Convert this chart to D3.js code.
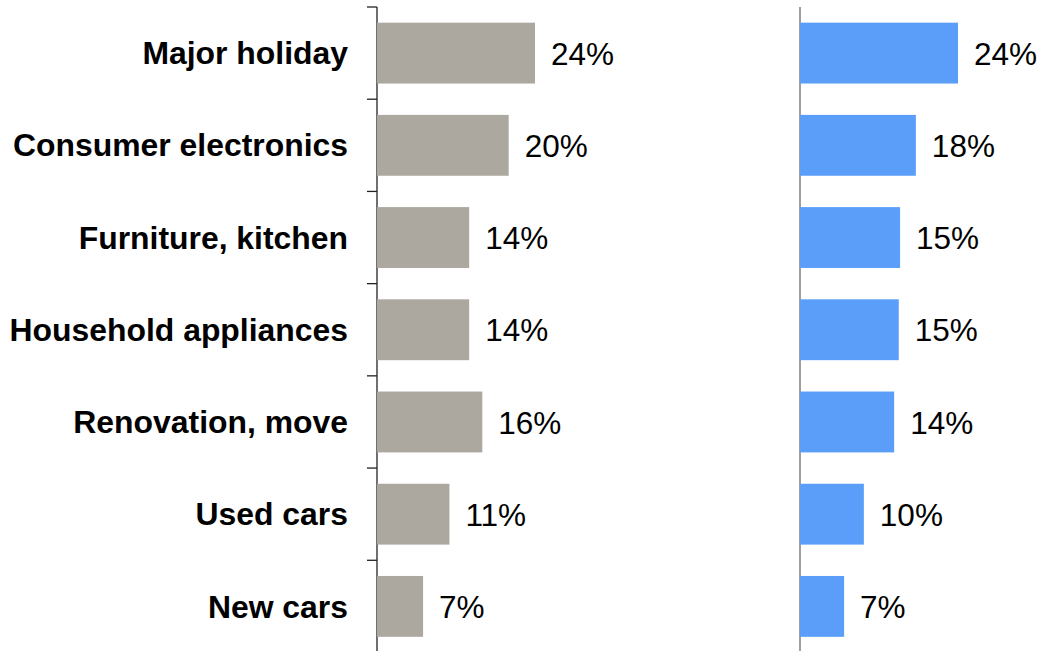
<!DOCTYPE html>
<html>
<head>
<meta charset="utf-8">
<script src="https://cdn.jsdelivr.net/npm/d3@7"></script>
<style>
  html, body { margin: 0; padding: 0; background: #fff; }
  svg { display: block; }
</style>
</head>
<body>
<svg id="chart" width="1039" height="651"></svg>
<script>
const categories = ["Major holiday", "Consumer electronics", "Furniture, kitchen", "Household appliances", "Renovation, move", "Used cars", "New cars"];
const seriesLeft = [24, 20, 14, 14, 16, 11, 7];
const seriesRight = [24, 17.6, 15.2, 15, 14.3, 9.7, 6.7];

const svg = d3.select("#chart");
const font = "'Liberation Sans', Arial, sans-serif";
const fs = 31.5;

const y = d3.scaleBand().domain(categories).range([7, 652.5]).paddingInner(0.34).paddingOuter(0.17);
const xL = d3.scaleLinear().domain([0, 24]).range([377, 535]);
const xR = d3.scaleLinear().domain([0, 24]).range([800, 958]);
const fmt = v => d3.format(".0f")(v) + "%";

// Left axis (Excel-style ticks between categories)
const step = y.step();
const tickY = d3.range(categories.length).map(i => 7 + i * step);
const gL = svg.append("g");
gL.append("line").attr("x1", 377).attr("x2", 377).attr("y1", 7).attr("y2", 651)
  .attr("stroke", "#222").attr("stroke-width", 1.3);
gL.selectAll("line.tick").data(tickY).enter().append("line").attr("class", "tick")
  .attr("x1", 367).attr("x2", 377).attr("y1", d => d).attr("y2", d => d)
  .attr("stroke", "#222").attr("stroke-width", 1.3);

// Category labels
svg.append("g").selectAll("text").data(categories).enter().append("text")
  .attr("x", 348).attr("y", d => y(d) + y.bandwidth() / 2).attr("dy", "0.35em")
  .attr("text-anchor", "end").attr("font-family", font).attr("font-weight", "bold")
  .attr("font-size", 31.9).attr("fill", "#000").text(d => d);

// Left bars
svg.append("g").selectAll("rect").data(seriesLeft).enter().append("rect")
  .attr("x", xL(0)).attr("y", (d, i) => y(categories[i]))
  .attr("width", d => xL(d) - xL(0)).attr("height", y.bandwidth())
  .attr("fill", "#aca8a0");
svg.append("g").selectAll("text").data(seriesLeft).enter().append("text")
  .attr("x", d => xL(d) + 16).attr("y", (d, i) => y(categories[i]) + y.bandwidth() / 2).attr("dy", "0.37em")
  .attr("font-family", font).attr("font-size", fs).attr("fill", "#000").text(fmt);

// Right axis
svg.append("line").attr("x1", 800).attr("x2", 800).attr("y1", 7).attr("y2", 651)
  .attr("stroke", "#7f7f7f").attr("stroke-width", 1.5);

// Right bars
svg.append("g").selectAll("rect").data(seriesRight).enter().append("rect")
  .attr("x", xR(0)).attr("y", (d, i) => y(categories[i]))
  .attr("width", d => xR(d) - xR(0)).attr("height", y.bandwidth())
  .attr("fill", "#5b9ef9");
svg.append("g").selectAll("text").data(seriesRight).enter().append("text")
  .attr("x", d => xR(d) + 16).attr("y", (d, i) => y(categories[i]) + y.bandwidth() / 2).attr("dy", "0.37em")
  .attr("font-family", font).attr("font-size", fs).attr("fill", "#000").text(fmt);
</script>
</body>
</html>
